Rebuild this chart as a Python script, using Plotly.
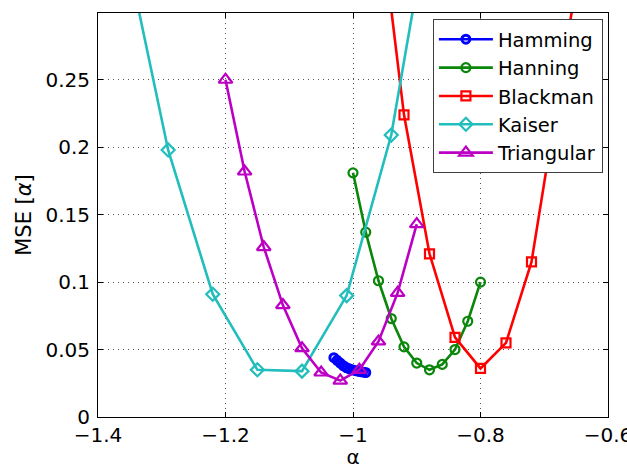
import plotly.graph_objects as go

# ---- data ----
hamming_x = [-1.03, -1.025, -1.02, -1.015, -1.01, -1.005, -1.0, -0.995, -0.99, -0.985, -0.98]
hamming_y = [0.044, 0.042, 0.040, 0.038, 0.0365, 0.0355, 0.0348, 0.0342, 0.0337, 0.0333, 0.033]

hanning_x = [-1.0, -0.98, -0.96, -0.94, -0.92, -0.90, -0.88, -0.86, -0.84, -0.82, -0.80]
hanning_y = [0.181, 0.137, 0.101, 0.073, 0.052, 0.040, 0.035, 0.039, 0.050, 0.071, 0.100]

blackman_x = [-0.96, -0.92, -0.88, -0.84, -0.80, -0.76, -0.72, -0.68, -0.64]
blackman_y = [0.38, 0.224, 0.121, 0.059, 0.036, 0.055, 0.115, 0.233, 0.35]

kaiser_x = [-1.36, -1.29, -1.22, -1.15, -1.08, -1.01, -0.94, -0.87]
kaiser_y = [0.355, 0.198, 0.091, 0.035, 0.034, 0.090, 0.209, 0.40]

triangular_x = [-1.2, -1.17, -1.14, -1.11, -1.08, -1.05, -1.02, -0.99, -0.96, -0.93, -0.90]
triangular_y = [0.250, 0.182, 0.126, 0.083, 0.051, 0.033, 0.027, 0.035, 0.056, 0.092, 0.143]

x_tickvals = [-1.4, -1.2, -1.0, -0.8, -0.6]
x_ticktext = ["\u22121.4", "\u22121.2", "\u22121", "\u22120.8", "\u22120.6"]
y_tickvals = [0, 0.05, 0.1, 0.15, 0.2, 0.25]
y_ticktext = ["0", "0.05", "0.1", "0.15", "0.2", "0.25"]

FONT = "DejaVu Sans, Liberation Sans, Arial, sans-serif"

series = [
    ("Hamming", hamming_x, hamming_y, "#0000FF", "circle-open", 8, 3.0),
    ("Hanning", hanning_x, hanning_y, "#0A870A", "circle-open", 9, 2.2),
    ("Blackman", blackman_x, blackman_y, "#FF0000", "square-open", 9, 2.2),
    ("Kaiser", kaiser_x, kaiser_y, "#22BDBD", "diamond-open", 10, 2.2),
    ("Triangular", triangular_x, triangular_y, "#BB00C4", "triangle-up-open", 12, 2.2),
]

fig = go.Figure()
for name, xs, ys, col, sym, sz, mlw in series:
    fig.add_trace(go.Scatter(
        x=xs, y=ys, name=name, mode="lines+markers",
        line=dict(color=col, width=2.6),
        marker=dict(symbol=sym, size=sz, color=col, line=dict(color=col, width=mlw)),
    ))

axis_common = dict(
    showline=True, linecolor="black", linewidth=1, mirror="ticks",
    ticks="inside", ticklen=5, tickcolor="black",
    showgrid=True, gridcolor="#555555", gridwidth=1, griddash="1px,4px",
    zeroline=False, automargin=False,
    tickfont=dict(family=FONT, size=20, color="black"),
)

fig.update_layout(
    width=627, height=469,
    margin=dict(l=98, r=19, t=12.5, b=51.5),
    paper_bgcolor="white", plot_bgcolor="white",
    font=dict(family=FONT, size=20, color="black"),
    xaxis=dict(range=[-1.4, -0.6], tickvals=x_tickvals, ticktext=x_ticktext,
               ticklabeloverflow="allow",
               title=dict(text="\u03b1", standoff=0, font=dict(family=FONT, size=20)),
               **axis_common),
    yaxis=dict(range=[0, 0.2995], tickvals=y_tickvals, ticktext=y_ticktext,
               ticklabelstandoff=3,
               title=dict(text="MSE [<i>\u03b1</i>]", standoff=8, font=dict(family=FONT, size=21)),
               **axis_common),
    legend=dict(x=0.99, y=0.985, xanchor="right", yanchor="top",
                bgcolor="white", bordercolor="#404040", borderwidth=1,
                font=dict(family=FONT, size=19.5, color="black"),
                itemwidth=54, tracegroupgap=0),
    showlegend=True,
)

fig.write_html("out.html", config={"displayModeBar": False},
               post_script="document.body.style.margin='0';document.body.style.overflow='hidden';")
